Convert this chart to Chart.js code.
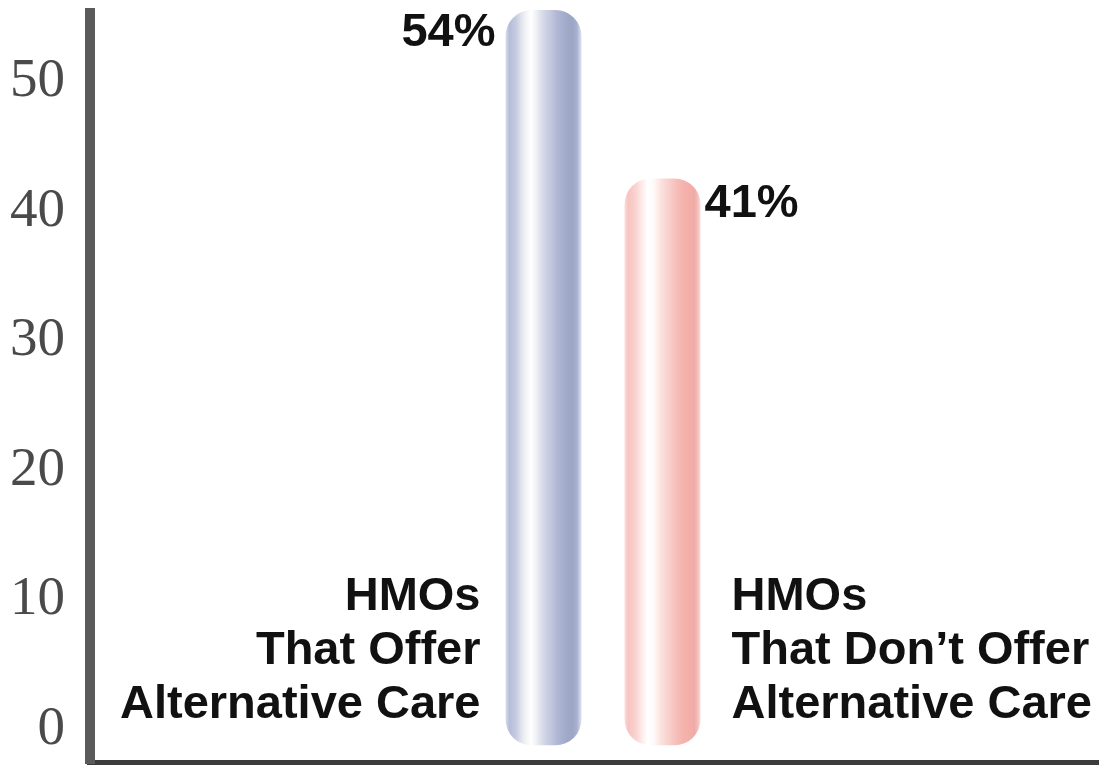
<!DOCTYPE html>
<html>
<head>
<meta charset="utf-8">
<title>HMOs and alternative care</title>
<script src="https://cdn.jsdelivr.net/npm/chart.js@4.4.1/dist/chart.umd.min.js"></script>
<style>
  html, body { margin: 0; padding: 0; background: #fff; }
  #wrap { width: 1099px; height: 765px; position: relative; }
</style>
</head>
<body>
<div id="wrap"><canvas id="chart"></canvas></div>
<script>
// data
const categories = [
  ["HMOs", "That Offer", "Alternative Care"],
  ["HMOs", "That Don’t Offer", "Alternative Care"]
];
const values = [54, 41];
const yTicks = [0, 10, 20, 30, 40, 50];

// bar shading, left -> right
const blueStops = [
  [0.00, "#dde0ec"], [0.05, "#b4bcd8"], [0.14, "#c6cce0"], [0.22, "#e6e8f0"],
  [0.28, "#f6f6f9"], [0.34, "#ffffff"], [0.41, "#eeeff5"], [0.47, "#dcdfea"],
  [0.54, "#ccd0e3"], [0.61, "#c0c5de"], [0.67, "#b2b8d6"], [0.74, "#a8b0d0"],
  [0.82, "#a0a8c8"], [0.88, "#9ea6c6"], [0.94, "#a8b0d2"], [1.00, "#e2e4ec"]
];
const pinkStops = [
  [0.00, "#fbdcda"], [0.05, "#f7c4c0"], [0.14, "#f9d2ce"], [0.22, "#fde8e6"],
  [0.30, "#ffffff"], [0.38, "#fffafa"], [0.43, "#fdeeec"], [0.49, "#fbe0dc"],
  [0.56, "#f9d4d0"], [0.63, "#f8c8c4"], [0.70, "#f6bcb6"], [0.78, "#f5b2ac"],
  [0.86, "#f4aea8"], [0.92, "#eeaca8"], [0.96, "#f5bcb8"], [1.00, "#fcdcda"]
];
const barStops = [blueStops, pinkStops];

const labelFont = "bold 47px 'Liberation Sans', Arial, sans-serif";

// ---------------------------------------------------------
// pill shaped bars + text
// ---------------------------------------------------------
const pillBars = {
  id: "pillBars",
  beforeDatasetsDraw(chart) {
    const ctx = chart.ctx;
    chart.getDatasetMeta(0).data.forEach((bar, i) => {
      const { x, y, base, width } = bar.getProps(["x", "y", "base", "width"], true);
      const left = x - width / 2;
      const top = y - 20;
      const bottom = base + 16;
      const g = ctx.createLinearGradient(left, 0, left + width, 0);
      barStops[i].forEach(([p, c]) => g.addColorStop(p, c));
      ctx.save();
      ctx.fillStyle = g;
      ctx.beginPath();
      ctx.roundRect(left, top, width, bottom - top, 26);
      ctx.fill();
      ctx.restore();
    });
    return false;
  },
  afterDraw(chart) {
    const ctx = chart.ctx;
    const zero = chart.scales.y.getPixelForValue(0);
    ctx.save();
    ctx.font = labelFont;
    ctx.fillStyle = "#111";
    ctx.textBaseline = "middle";
    chart.getDatasetMeta(0).data.forEach((bar, i) => {
      const onLeft = i === 0;
      const half = bar.width / 2;
      ctx.textAlign = onLeft ? "right" : "left";
      const vx = onLeft ? bar.x - half - 10 : bar.x + half + 4;
      ctx.fillText(values[i] + "%", vx, bar.y + (onLeft ? 3 : 6));
      const cx = onLeft ? bar.x - half - 25 : bar.x + half + 31;
      categories[i].forEach((line, k) => ctx.fillText(line, cx, zero - 132 + k * 54));
    });
    ctx.restore();
  }
};

function noPadding(s) {
  s.paddingTop = 0;
  s.paddingBottom = 0;
  s.paddingLeft = 0;
  s.paddingRight = 0;
}

new Chart(document.getElementById("chart"), {
  type: "bar",
  data: {
    labels: categories.map(c => c.join(" ")),
    datasets: [{
      data: values.map((v, i) => ({ x: i, y: v })),
      barThickness: 76,
      backgroundColor: "#b4bcd8"
    }]
  },
  options: {
    responsive: true,
    maintainAspectRatio: false,
    animation: false,
    layout: { padding: { top: 13, right: 0, bottom: 0, left: 0 } },
    plugins: { legend: { display: false }, tooltip: { enabled: false } },
    scales: {
      x: {
        type: "linear",
        offset: false,
        min: -3.811,
        max: 4.668,
        afterFit: s => { s.height = 2; noPadding(s); },
        grid: { display: false, drawTicks: false },
        ticks: { display: false },
        border: { display: true, color: "#3c3c3c", width: 6 }
      },
      y: {
        min: -2.6,
        max: 55.32,
        afterFit: s => { s.width = 90; noPadding(s); },
        afterBuildTicks: s => { s.ticks = yTicks.map(v => ({ value: v })); },
        grid: { display: false, drawTicks: false },
        border: { display: true, color: "#5a5a5a", width: 10 },
        ticks: {
          padding: 25,
          color: "#4a4a4a",
          font: { family: "'Liberation Serif', 'Times New Roman', serif", size: 55 }
        }
      }
    }
  },
  plugins: [pillBars]
});
</script>
</body>
</html>
